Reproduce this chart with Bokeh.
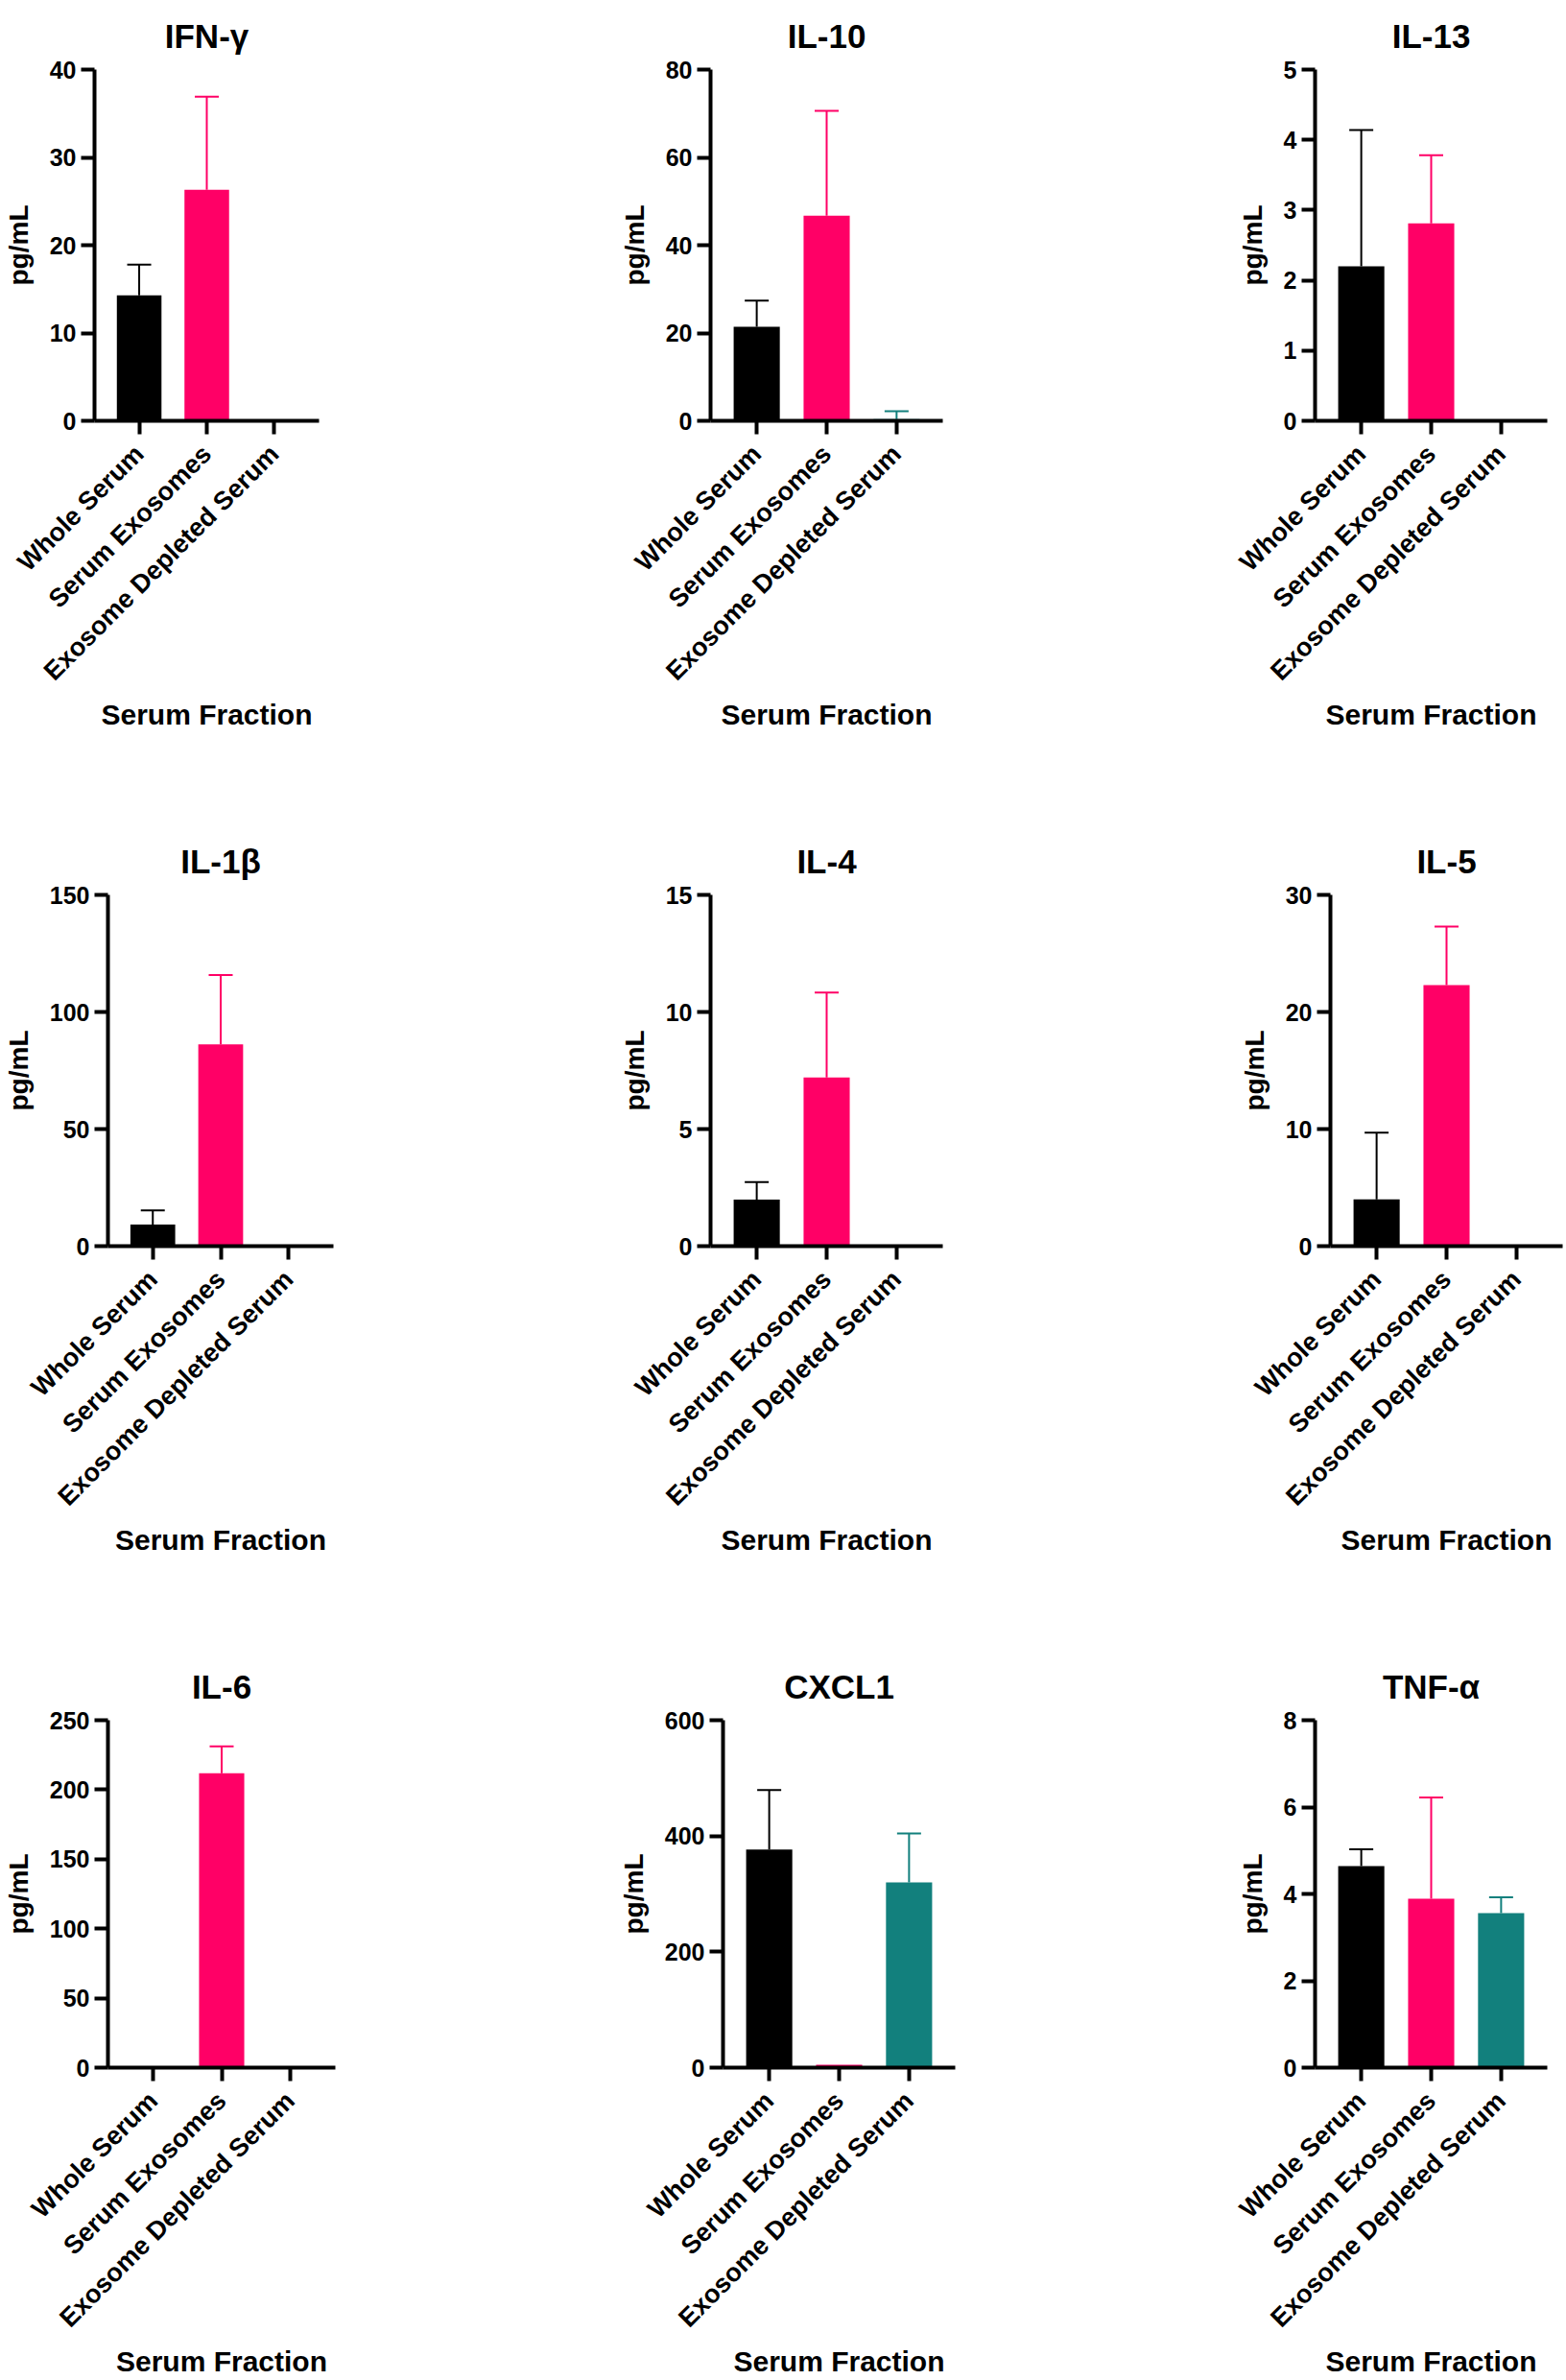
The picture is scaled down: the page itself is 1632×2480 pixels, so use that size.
import math
from bokeh.plotting import figure
from bokeh.models import ColumnDataSource, Whisker, TeeHead, FixedTicker, Range1d, FactorRange
from bokeh.layouts import column, row
from bokeh.embed import file_html
from bokeh.resources import INLINE

# ---------------- data ----------------
categories = ["Whole Serum", "Serum Exosomes", "Exosome Depleted Serum"]
bar_colors = ["#000000", "#FF0066", "#12807D"]

titles = ["IFN-γ", "IL-10", "IL-13", "IL-1β", "IL-4", "IL-5", "IL-6", "CXCL1", "TNF-α"]

ifng_mean = [14.3, 26.3, 0.0]
ifng_sd = [3.5, 10.6, 0.0]
il10_mean = [21.4, 46.7, 0.4]
il10_sd = [6.0, 23.9, 1.8]
il13_mean = [2.20, 2.81, 0.0]
il13_sd = [1.94, 0.97, 0.0]
il1b_mean = [9.2, 86.2, 0.0]
il1b_sd = [6.1, 29.6, 0.0]
il4_mean = [1.99, 7.2, 0.0]
il4_sd = [0.75, 3.63, 0.0]
il5_mean = [4.0, 22.3, 0.0]
il5_sd = [5.7, 5.0, 0.0]
il6_mean = [0.0, 211.8, 0.0]
il6_sd = [0.0, 19.4, 0.0]
cxcl1_mean = [376.6, 5.0, 320.0]
cxcl1_sd = [103.0, 0.0, 84.4]
tnfa_mean = [4.64, 3.89, 3.56]
tnfa_sd = [0.39, 2.33, 0.36]

y_max = [40, 80, 5, 150, 15, 30, 250, 600, 8]
y_step = [10, 20, 1, 50, 5, 10, 50, 200, 2]

means = [ifng_mean, il10_mean, il13_mean, il1b_mean, il4_mean, il5_mean, il6_mean, cxcl1_mean, tnfa_mean]
sds = [ifng_sd, il10_sd, il13_sd, il1b_sd, il4_sd, il5_sd, il6_sd, cxcl1_sd, tnfa_sd]

# ---------------- layout ----------------
FONT = "Liberation Sans"
FRAME_W = 242
FRAME_H = 366
ROW_H = [860, 860, 760]
COL_W = [544, 544, 544]
LEFTS = [[90, 196, 282], [105, 196, 298], [107, 209, 282]]
TOP = 72


def make_panel(i, width, height, left):
    mean = means[i]
    sd = sds[i]
    p = figure(
        x_range=FactorRange(factors=categories, range_padding=0.107),
        y_range=Range1d(0, y_max[i]),
        width=width, height=height,
        output_backend="svg", toolbar_location=None,
        min_border_left=left,
        min_border_right=width - left - FRAME_W,
        min_border_top=TOP,
        min_border_bottom=height - TOP - FRAME_H,
        title=titles[i],
    )
    p.outline_line_color = None
    p.xgrid.visible = False
    p.ygrid.visible = False
    p.background_fill_color = "white"

    src = ColumnDataSource(dict(x=categories, top=mean, color=bar_colors))
    p.vbar(x="x", top="top", width=0.66, source=src, fill_color="color", line_color=None)

    for k in range(3):
        if sd[k] > 0:
            ws = ColumnDataSource(dict(x=[categories[k]], lower=[mean[k]], upper=[mean[k] + sd[k]]))
            w = Whisker(base="x", lower="lower", upper="upper", source=ws, dimension="height",
                        line_color=bar_colors[k], line_width=2,
                        lower_head=None,
                        upper_head=TeeHead(size=25, line_color=bar_colors[k], line_width=2))
            p.add_layout(w)

    p.title.text_font = FONT
    p.title.text_font_size = "35px"
    p.title.text_font_style = "bold"
    p.title.text_color = "black"
    p.title.align = "center"
    p.title.standoff = 31

    for ax in (p.xaxis[0], p.yaxis[0]):
        ax.axis_line_width = 4
        ax.axis_line_color = "black"
        ax.major_tick_line_width = 4
        ax.major_tick_line_color = "black"
        ax.major_tick_out = 14
        ax.major_tick_in = 0
        ax.minor_tick_line_color = None
        ax.major_label_text_font = FONT
        ax.major_label_text_font_style = "bold"
        ax.major_label_text_color = "black"
        ax.axis_label_text_font = FONT
        ax.axis_label_text_font_style = "bold"
        ax.axis_label_text_color = "black"

    yax = p.yaxis[0]
    yax.ticker = FixedTicker(ticks=list(range(0, y_max[i] + 1, y_step[i])))
    yax.major_label_text_font_size = "25px"
    yax.major_label_standoff = 5
    yax.axis_label = "pg/mL"
    yax.axis_label_text_font_size = "28px"
    yax.axis_label_standoff = 14

    xax = p.xaxis[0]
    xax.major_label_orientation = math.pi / 4
    xax.major_label_text_font_size = "27px"
    xax.major_label_standoff = 16
    xax.axis_label = "Serum Fraction"
    xax.axis_label_text_font_size = "30px"
    xax.axis_label_standoff = 0
    return p


rows = []
idx = 0
for r in range(3):
    figs = []
    for c in range(3):
        figs.append(make_panel(idx, COL_W[c], ROW_H[r], LEFTS[r][c]))
        idx += 1
    rows.append(row(*figs))

layout = column(*rows)

open("out.html", "w").write(file_html(layout, INLINE))
